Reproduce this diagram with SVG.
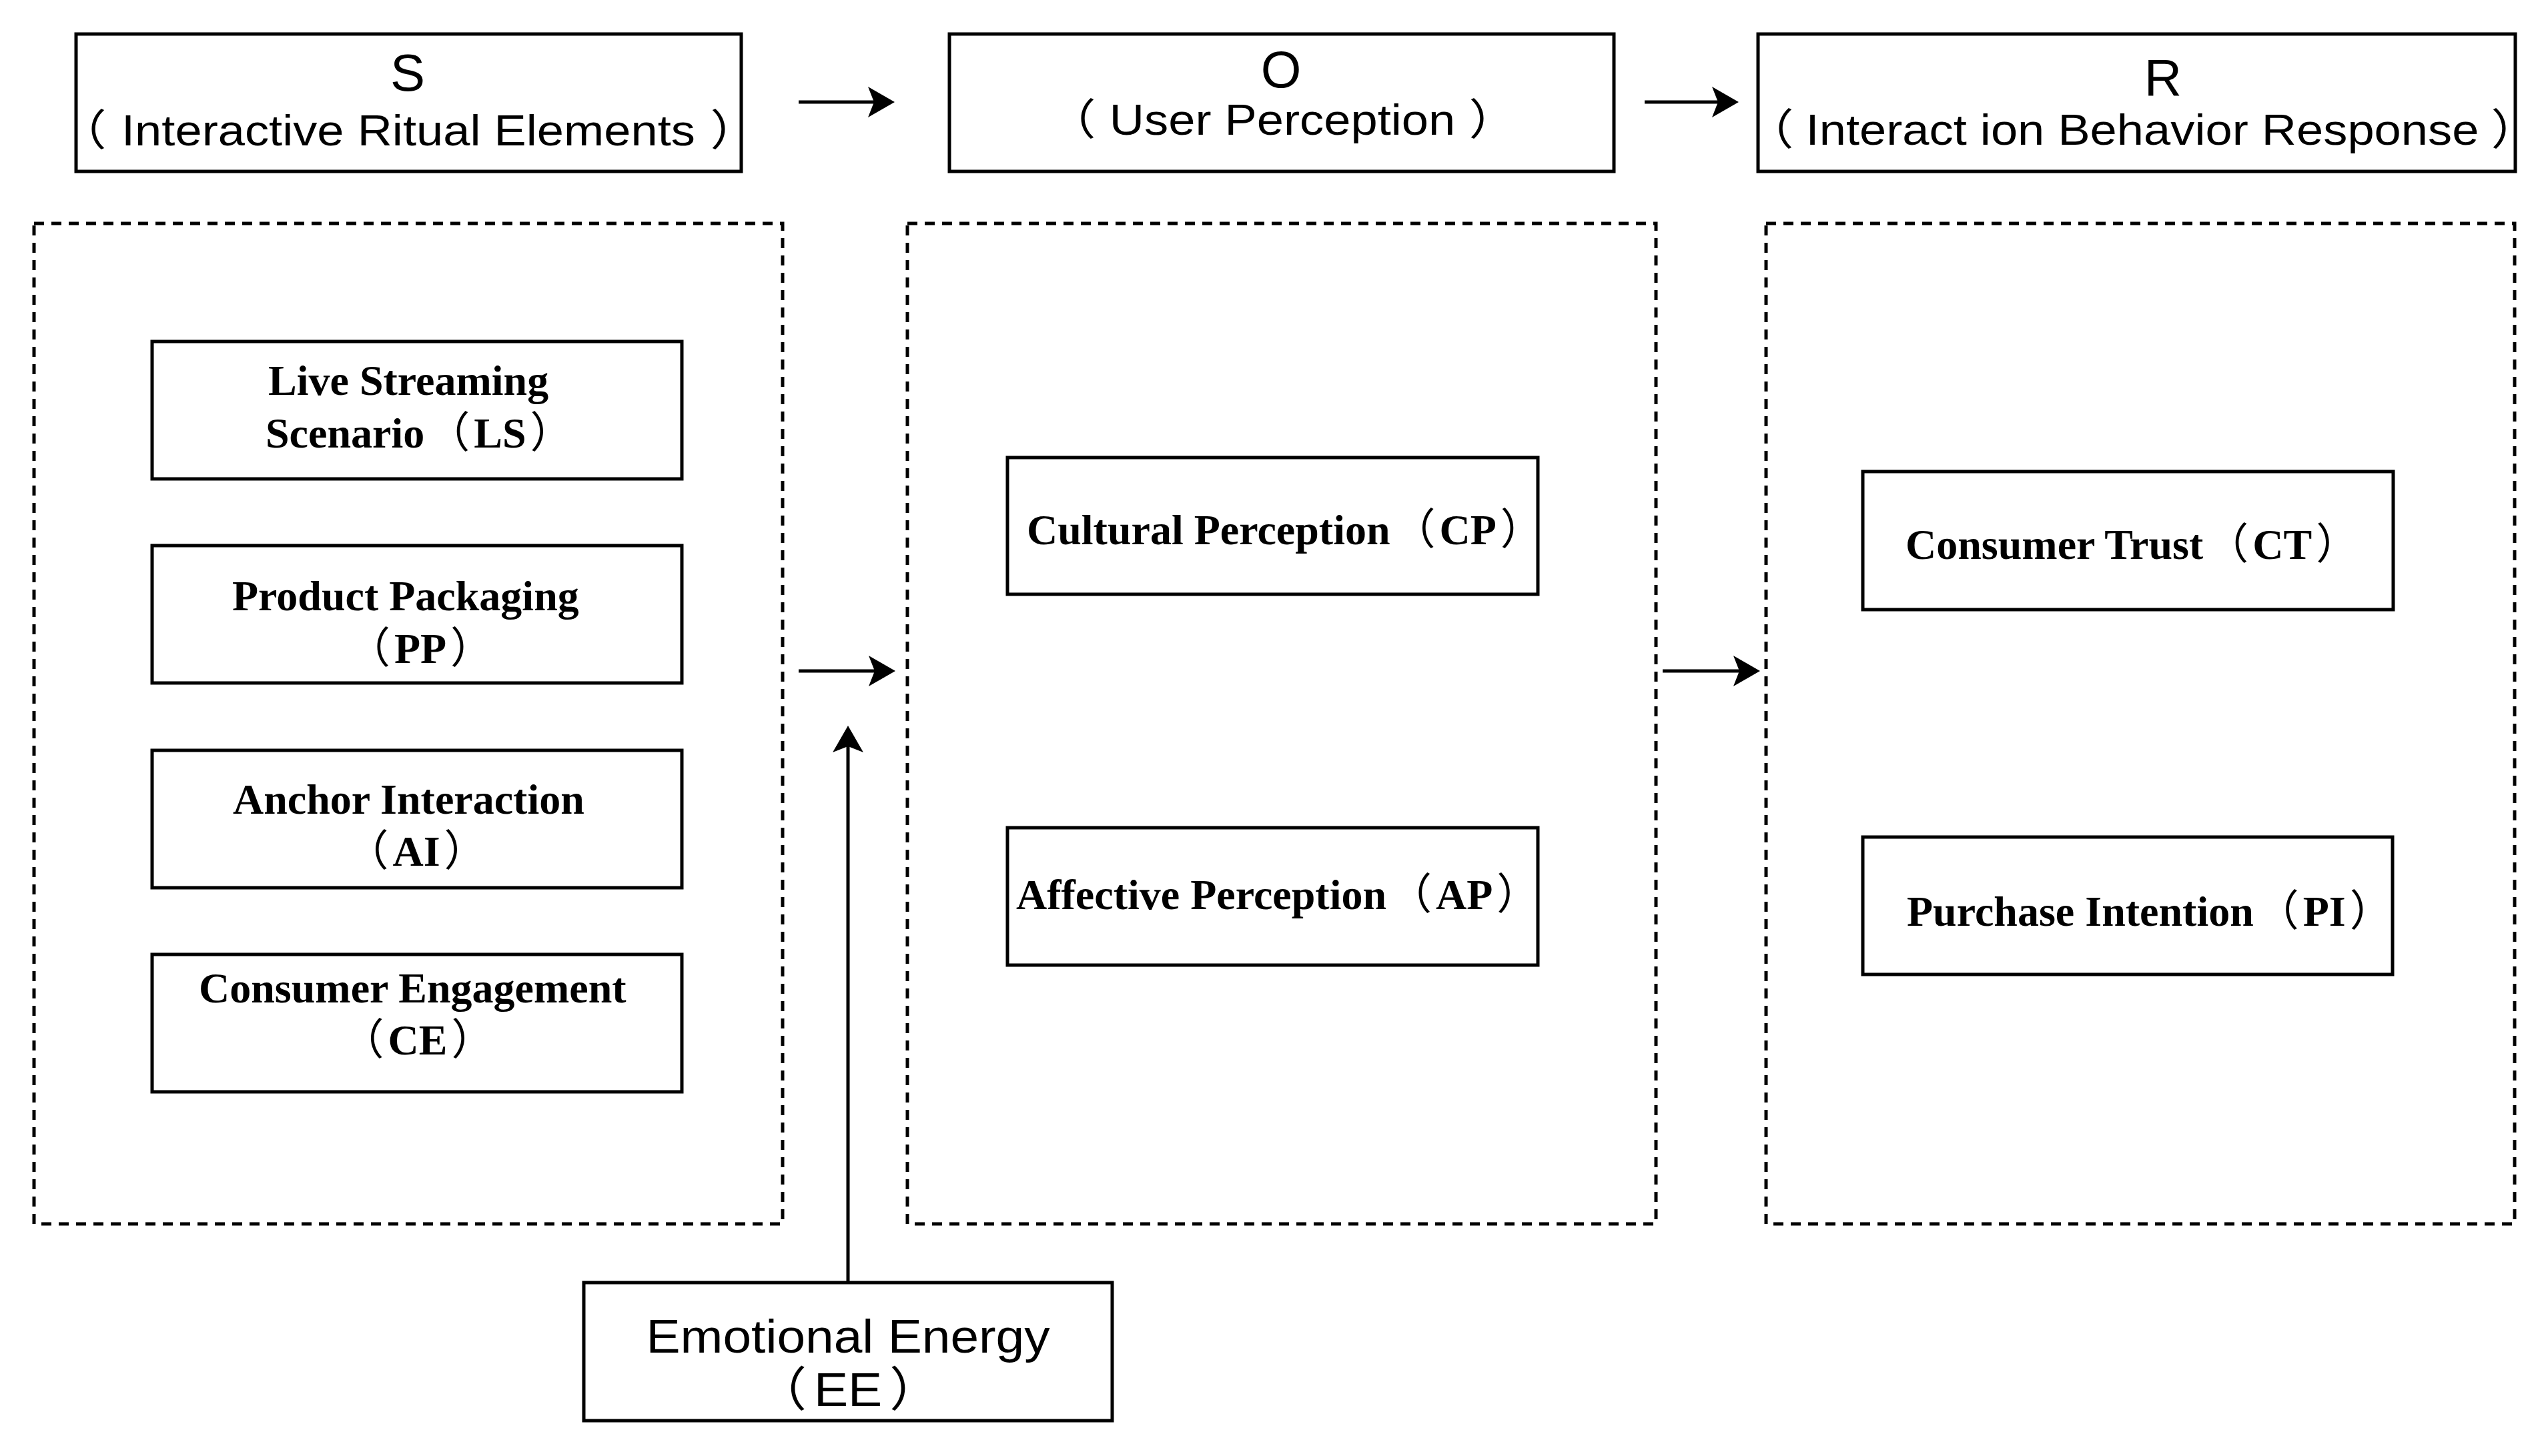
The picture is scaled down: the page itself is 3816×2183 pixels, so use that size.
<svg xmlns="http://www.w3.org/2000/svg" width="3816" height="2183" viewBox="0 0 3816 2183">
<defs>
<style>
.box{fill:#fff;stroke:#000;stroke-width:5}
.dash{fill:none;stroke:#000;stroke-width:5;stroke-dasharray:15 11}
.conn{stroke:#000;stroke-width:5;fill:none}
.sans{font-family:"Liberation Sans","Noto Sans CJK SC",sans-serif;fill:#000}
.serif{font-family:"Liberation Serif","Noto Sans CJK SC",serif;font-weight:bold;font-size:64px;fill:#000}
.p{font-weight:normal}
</style>
<marker id="arr" markerUnits="userSpaceOnUse" markerWidth="42" markerHeight="48" refX="20" refY="23" orient="auto">
<path d="M0,0 L40,23 L0,46 L9,23 Z" fill="#000"/>
</marker>
</defs>
<rect width="3816" height="2183" fill="#fff"/>

<g id="group-S">
<rect class="dash" x="51" y="335" width="1122" height="1500"/>
</g>
<g id="group-O">
<rect class="dash" x="1360" y="335" width="1122" height="1500"/>
</g>
<g id="group-R">
<rect class="dash" x="2647" y="335" width="1122" height="1500"/>
</g>

<g id="S">
<rect class="box" x="114" y="51" width="997" height="206"/>
<text class="sans" x="611" y="136" font-size="78" text-anchor="middle">S</text>
<text class="sans" font-size="64" text-anchor="middle" transform="translate(612,218) scale(1.13,1)">（<tspan dx="20">Interactive Ritual Elements</tspan><tspan dx="20">）</tspan></text>
</g>
<g id="O">
<rect class="box" x="1423" y="51" width="996" height="206"/>
<text class="sans" x="1920" y="131" font-size="78" text-anchor="middle">O</text>
<text class="sans" font-size="64" text-anchor="middle" transform="translate(1922,202) scale(1.13,1)">（<tspan dx="18">User Perception</tspan><tspan dx="18">）</tspan></text>
</g>
<g id="R">
<rect class="box" x="2635" y="51" width="1135" height="206"/>
<text class="sans" x="3242" y="143" font-size="78" text-anchor="middle">R</text>
<text class="sans" font-size="64" text-anchor="middle" transform="translate(3211,217) scale(1.13,1)">（<tspan dx="16">Interact ion Behavior Response</tspan><tspan dx="16">）</tspan></text>
</g>

<g id="LS">
<rect class="box" x="228" y="512" width="794" height="206"/>
<text class="serif" x="402" y="592">Live Streaming</text>
<text class="serif" x="398" y="671">Scenario<tspan class="p" dx="4">（</tspan><tspan dx="6">LS</tspan><tspan class="p" dx="6">）</tspan></text>
</g>
<g id="PP">
<rect class="box" x="228" y="818" width="794" height="206"/>
<text class="serif" x="348" y="915">Product Packaging</text>
<text class="serif" x="630" y="994" text-anchor="middle"><tspan class="p">（</tspan><tspan dx="6">PP</tspan><tspan class="p" dx="6">）</tspan></text>
</g>
<g id="AI">
<rect class="box" x="228" y="1125" width="794" height="206"/>
<text class="serif" x="349" y="1220">Anchor Interaction</text>
<text class="serif" x="624" y="1298" text-anchor="middle"><tspan class="p">（</tspan><tspan dx="6">AI</tspan><tspan class="p" dx="6">）</tspan></text>
</g>
<g id="CE">
<rect class="box" x="228" y="1431" width="794" height="206"/>
<text class="serif" x="298" y="1503">Consumer Engagement</text>
<text class="serif" x="626" y="1581" text-anchor="middle"><tspan class="p">（</tspan><tspan dx="6">CE</tspan><tspan class="p" dx="6">）</tspan></text>
</g>

<g id="CP">
<rect class="box" x="1510" y="686" width="795" height="205"/>
<text class="serif" x="1539" y="816">Cultural Perception<tspan class="p" dx="4">（</tspan><tspan dx="6">CP</tspan><tspan class="p" dx="6">）</tspan></text>
</g>
<g id="AP">
<rect class="box" x="1510" y="1241" width="795" height="206"/>
<text class="serif" x="1523" y="1363">Affective Perception<tspan class="p" dx="4">（</tspan><tspan dx="6">AP</tspan><tspan class="p" dx="6">）</tspan></text>
</g>

<g id="CT">
<rect class="box" x="2792" y="707" width="795" height="207"/>
<text class="serif" x="2856" y="838">Consumer Trust<tspan class="p" dx="4">（</tspan><tspan dx="6">CT</tspan><tspan class="p" dx="6">）</tspan></text>
</g>
<g id="PI">
<rect class="box" x="2792" y="1255" width="794" height="206"/>
<text class="serif" x="2858" y="1388">Purchase Intention<tspan class="p" dx="4">（</tspan><tspan dx="6">PI</tspan><tspan class="p" dx="6">）</tspan></text>
</g>

<g id="EE">
<rect class="box" x="875" y="1923" width="792" height="207"/>
<text class="sans" font-size="71" text-anchor="middle" transform="translate(1271,2028) scale(1.08,1)">Emotional Energy</text>
<text class="sans" font-size="71" text-anchor="middle" transform="translate(1271,2108) scale(1.08,1)">（<tspan dx="10">EE</tspan><tspan dx="10">）</tspan></text>
</g>

<g id="connectors">
<line class="conn" x1="1197" y1="153" x2="1321" y2="153" marker-end="url(#arr)"/>
<line class="conn" x1="2465" y1="153" x2="2586" y2="153" marker-end="url(#arr)"/>
<line class="conn" x1="1197" y1="1006" x2="1322" y2="1006" marker-end="url(#arr)"/>
<line class="conn" x1="2492" y1="1006" x2="2618" y2="1006" marker-end="url(#arr)"/>
<line class="conn" x1="1271" y1="1923" x2="1271" y2="1108" marker-end="url(#arr)"/>
</g>
</svg>
